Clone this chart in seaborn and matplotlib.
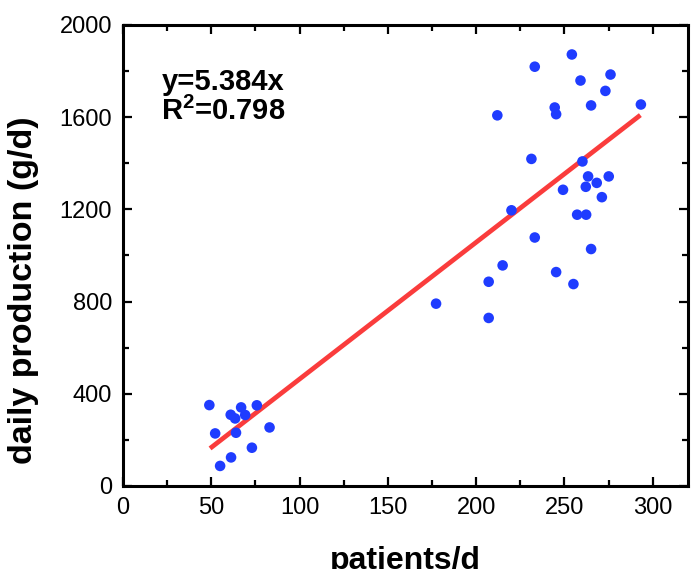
import seaborn as sns
import matplotlib
matplotlib.use("Agg")
import matplotlib.pyplot as plt
from matplotlib.ticker import MultipleLocator
import pandas as pd

# values
patients = [48.9, 52.2, 55.0, 61.2, 61.0, 63.5, 66.9, 69.2, 64.0, 73.0, 75.8, 83.0,
            177.3, 207.1, 207.1, 212.0, 215.0, 220.0, 231.3, 233.2, 233.2, 244.5,
            245.3, 245.3, 249.2, 254.2, 255.1, 257.2, 259.1, 260.2, 262.1, 262.3,
            263.4, 265.1, 265.1, 268.3, 271.2, 273.2, 275.1, 276.1, 293.3]
production = [351, 228, 87, 124, 309, 293, 341, 308, 231, 166, 350, 254,
              791, 886, 729, 1608, 957, 1196, 1419, 1819, 1078, 1642,
              1613, 928, 1285, 1872, 876, 1177, 1759, 1408, 1298, 1177,
              1343, 1651, 1028, 1315, 1253, 1714, 1343, 1785, 1655]

fit_x = [49.3, 293.0]
fit_y = [163, 1609]

eq_text = "y=5.384x"
r2_text = "R$^\\mathbf{2}$=0.798"

df = pd.DataFrame({"patients": patients, "production": production})
fit_df = pd.DataFrame({"x": fit_x, "y": fit_y})

sns.set_style("ticks")
plt.rcParams["font.family"] = ["Liberation Sans", "DejaVu Sans"]
plt.rcParams["mathtext.fontset"] = "custom"
plt.rcParams["mathtext.rm"] = "Liberation Sans"
plt.rcParams["mathtext.bf"] = "Liberation Sans:bold"
plt.rcParams["text.color"] = "black"
plt.rcParams["axes.labelcolor"] = "black"

fig = plt.figure(figsize=(6.91, 5.69), dpi=100)
ax = fig.add_axes([0.178, 0.1459, 0.8177, 0.8102])

sns.scatterplot(data=df, x="patients", y="production", ax=ax,
                color="#1f3cff", s=58, edgecolor="none", zorder=3)
sns.lineplot(data=fit_df, x="x", y="y", ax=ax, color="#fa3c3c",
             linewidth=3.4, solid_capstyle="butt", zorder=2)

ax.set_xlim(0, 320)
ax.set_ylim(0, 2000)
ax.xaxis.set_major_locator(MultipleLocator(50))
ax.xaxis.set_minor_locator(MultipleLocator(25))
ax.yaxis.set_major_locator(MultipleLocator(400))
ax.yaxis.set_minor_locator(MultipleLocator(200))

for sp in ax.spines.values():
    sp.set_linewidth(2.2)
    sp.set_color("black")
ax.tick_params(which="both", direction="in", top=True, right=True,
               width=1.6, labelsize=17, colors="black")
ax.tick_params(which="major", length=6.7)
ax.tick_params(which="minor", length=4.3)
ax.tick_params(axis="x", pad=8)
ax.tick_params(axis="y", pad=8)

ax.set_xlabel("patients/d", fontsize=23, fontweight="bold")
ax.set_ylabel("daily production (g/d)", fontsize=24.5, fontweight="bold")
ax.xaxis.set_label_coords(0.5, -0.13)
ax.yaxis.set_label_coords(-0.148, 0.425)

ax.text(0.068, 0.859, eq_text, transform=ax.transAxes, fontsize=21,
        fontweight="bold", ha="left", va="baseline")
ax.text(0.068, 0.794, r2_text, transform=ax.transAxes, fontsize=21,
        fontweight="bold", ha="left", va="baseline")

fig.savefig("out.png", dpi=100)
